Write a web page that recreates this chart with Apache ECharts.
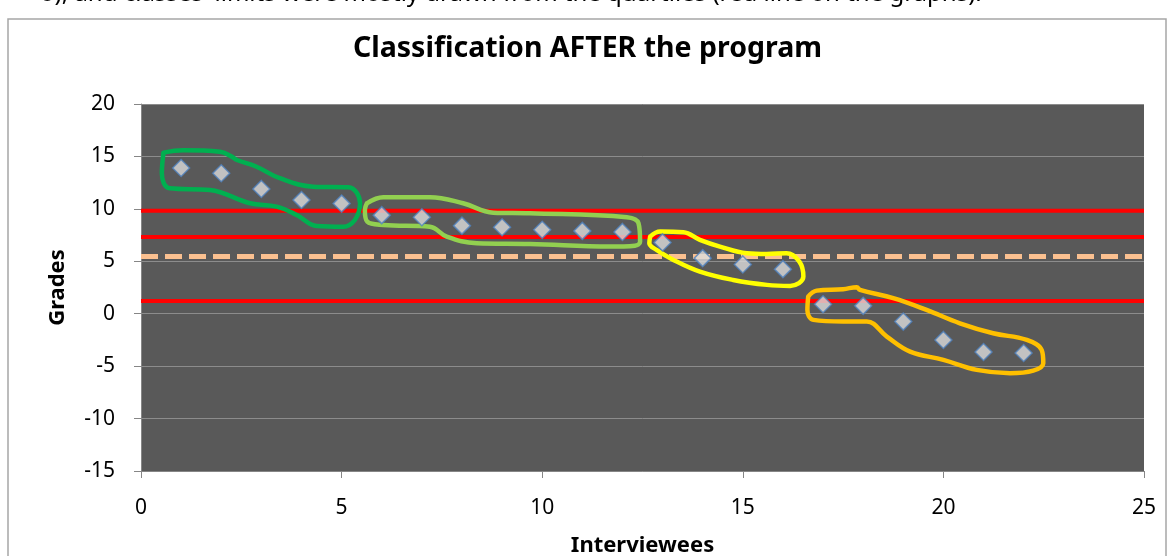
<!DOCTYPE html>
<html style="height: 100%">

<head>
    <meta charset="utf-8">
</head>

<body style="height: 100%; margin: 0; background: #fff">
    <div id="container" style="width: 1175px; height: 556px"></div>
    <script type="text/javascript" src="https://cdn.jsdelivr.net/npm/echarts@6/dist/echarts.min.js"></script>
    <script type="text/javascript">
        // interviewee number and grade after the program
        var interviewees = [1, 2, 3, 4, 5, 6, 7, 8, 9, 10, 11, 12, 13, 14, 15, 16, 17, 18, 19, 20, 21, 22];
        var grades = [13.9, 13.4, 11.9, 10.85, 10.5, 9.4, 9.2, 8.4, 8.25, 8.0, 7.9, 7.8, 6.8, 5.3, 4.7, 4.25, 0.9, 0.75, -0.75, -2.5, -3.65, -3.75];

        // class limits (quartiles) and the dashed reference line
        var limits = [9.83, 7.32, 1.22];
        var dashedLimit = 5.45;
        var xRange = [0, 25];

        // hand drawn group outlines, in chart units
        var outlineGreen = [[0.56, 15.36], [1.05, 15.59], [1.97, 15.45], [2.26, 14.98], [2.39, 14.66], [2.88, 14.02], [3.46, 12.92], [4.29, 12.12], [5.17, 12.06], [5.46, 10.53], [5.33, 8.94], [5.04, 8.3], [4.38, 8.37], [3.88, 9.42], [3.38, 10.21], [2.72, 10.53], [1.72, 11.8], [0.72, 11.96], [0.52, 13.39], [0.56, 15.36]];
        var outlineLightGreen = [[5.63, 10.53], [6.04, 11.11], [7.2, 11.11], [8.03, 10.53], [8.78, 9.64], [9.7, 9.58], [12.11, 9.2], [12.4, 8.63], [12.44, 6.87], [12.31, 6.49], [11.69, 6.4], [9.7, 6.65], [8.37, 6.72], [7.62, 7.35], [7.2, 8.3], [6.04, 8.47], [5.64, 8.78], [5.58, 9.9], [5.63, 10.53]];
        var outlineYellow = [[12.69, 7.35], [12.94, 7.83], [13.52, 7.77], [13.93, 7.04], [14.43, 6.4], [15.1, 5.77], [15.6, 5.7], [16.09, 5.77], [16.41, 4.97], [16.51, 3.54], [16.18, 2.65], [15.6, 2.75], [14.76, 3.22], [13.93, 4.01], [13.27, 5.13], [12.85, 6.08], [12.67, 6.72], [12.69, 7.35]];
        var outlineOrange = [[16.63, 1.63], [16.84, 2.2], [17.5, 2.34], [17.84, 2.53], [17.92, 2.27], [18.75, 1.48], [19.58, 0.36], [20.41, -0.91], [21.24, -1.86], [22.08, -2.5], [22.45, -3.46], [22.49, -4.72], [22.24, -5.42], [21.66, -5.67], [20.83, -5.36], [20.0, -4.4], [19.17, -3.61], [18.59, -2.18], [18.09, -0.75], [17.5, -0.75], [16.76, -0.59], [16.61, 0.36], [16.63, 1.63]];

        var dom = document.getElementById("container");
        var myChart = echarts.init(dom, null, { renderer: 'canvas' });
        var font = '"Noto Sans", "Open Sans", sans-serif';

        var points = interviewees.map(function(x, i) {
            return [x, grades[i]];
        });

        function hLine(y, color, width, type) {
            return {
                type: 'line',
                data: [[xRange[0], y], [xRange[1], y]],
                symbol: 'none',
                silent: true,
                z: 2,
                lineStyle: { color: color, width: width, type: type }
            };
        }

        function outline(data, color) {
            return {
                type: 'line',
                data: data,
                symbol: 'none',
                smooth: 0.4,
                silent: true,
                z: 3,
                lineStyle: { color: color, width: 4.5, cap: 'round', join: 'round' }
            };
        }

        var series = [];
        limits.forEach(function(v) {
            series.push(hLine(v, '#ff0000', 4, 'solid'));
        });
        series.push(hLine(dashedLimit, '#fac090', 5, [17, 7]));
        series.push(outline(outlineGreen, '#00b050'));
        series.push(outline(outlineLightGreen, '#92d050'));
        series.push(outline(outlineYellow, '#ffff00'));
        series.push(outline(outlineOrange, '#ffc000'));
        series.push({
            type: 'scatter',
            data: points,
            symbol: 'diamond',
            symbolSize: 17,
            z: 5,
            itemStyle: { color: '#dcdcdc', borderColor: '#4f81bd', borderWidth: 1.5 }
        });

        var option = {
            animation: false,
            backgroundColor: '#ffffff',
            title: {
                text: 'Classification AFTER the program',
                left: 'center',
                top: 29,
                textStyle: { fontFamily: font, fontSize: 28.5, fontWeight: 'bold', color: '#000' }
            },
            graphic: [{
                type: 'rect',
                shape: { x: 8, y: 19, width: 1158, height: 600 },
                style: { fill: 'none', stroke: '#a6a6a6', lineWidth: 1.5 },
                silent: true
            }, {
                type: 'text',
                left: 40,
                top: -18,
                style: {
                    text: "o), and classes' limits were mostly drawn from the quartiles (red line on the graphs).",
                    font: '24px "Noto Sans", sans-serif',
                    fill: '#000'
                },
                silent: true
            }],
            grid: {
                left: 141,
                right: 31,
                top: 104,
                bottom: 85,
                outerBoundsMode: 'none',
                containLabel: false,
                show: true,
                backgroundColor: '#595959',
                borderWidth: 0
            },
            xAxis: {
                type: 'value',
                min: 0,
                max: 25,
                interval: 5,
                name: 'Interviewees',
                nameLocation: 'middle',
                nameGap: 64,
                nameTextStyle: { fontFamily: font, fontSize: 22, fontWeight: 'bold', color: '#000' },
                axisLine: { onZero: false, lineStyle: { color: '#868686', width: 1 } },
                axisTick: { show: true, length: 7, lineStyle: { color: '#868686' } },
                axisLabel: { fontFamily: font, fontSize: 21, color: '#000', margin: 27 },
                splitLine: { show: false }
            },
            yAxis: {
                type: 'value',
                min: -15,
                max: 20,
                interval: 5,
                name: 'Grades',
                nameLocation: 'middle',
                nameGap: 72,
                nameTextStyle: { fontFamily: font, fontSize: 22, fontWeight: 'bold', color: '#000' },
                axisLine: { show: true, lineStyle: { color: '#868686', width: 1 } },
                axisTick: { show: true, length: 7, lineStyle: { color: '#868686' } },
                axisLabel: { fontFamily: font, fontSize: 21, color: '#000', margin: 26 },
                splitLine: { show: true, lineStyle: { color: '#8c8c8c', width: 1 } }
            },
            series: series
        };

        if (option && typeof option === "object") {
            myChart.setOption(option, true);
        }
    </script>
</body>

</html>
